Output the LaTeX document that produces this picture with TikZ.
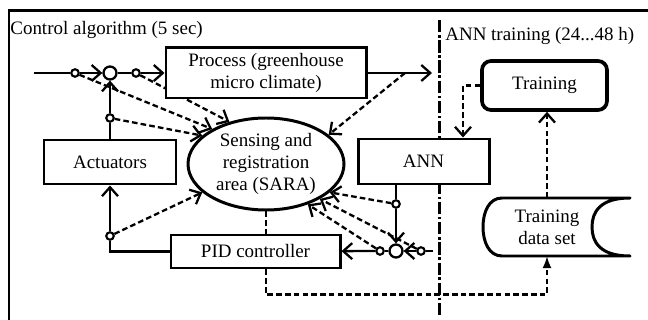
\documentclass[tikz,border=0pt]{standalone}
\usepackage{fontspec}
\setmainfont{Liberation Serif}
\usetikzlibrary{arrows.meta, shapes.geometric, backgrounds}

\tikzset{
    box/.style={draw, line width=1.7pt, fill=white, align=center, inner sep=1pt},
    tap/.style={circle, draw, line width=1.2pt, fill=white, inner sep=0pt, minimum size=1.5mm},
    sumpt/.style={circle, draw, line width=1.3pt, fill=white, inner sep=0pt, minimum size=2.6mm},
    sig/.style={line width=1.3pt},
    info/.style={line width=1.3pt, dash pattern=on 3.2pt off 1.8pt},
}

\begin{document}
\begin{tikzpicture}[x=0.2mm, y=-0.2mm, >={Straight Barb[length=1.8mm, width=3.2mm]},
        font=\fontsize{10.8}{12.6}\selectfont]
        % \draw[style=help lines, step=20] (0, 0) grid (648, 320);
        \useasboundingbox (0, 0) rectangle (648, 320);
        \draw[line width=1.7pt] (9, 320) -- (9, 11) -- (648, 11);
        \node[anchor=base west, inner sep=0pt] (ctrltitle) at (10, 35) {Control algorithm (5 sec)};
        \node[anchor=base west, inner sep=0pt] (anntitle) at (445, 41) {ANN training (24...48 h)};

        \node[box, minimum width=40mm, minimum height=10mm] (process) at (266, 73)
            {Process (greenhouse\\ micro climate)};
        \node[box, minimum width=26.4mm, minimum height=8.8mm] (actuators) at (110, 162) {Actuators};
        \node[box, minimum width=33.8mm, minimum height=6.6mm] (pid) at (255.5, 251.5) {PID controller};
        \node[draw, ellipse, line width=1.7pt, align=center, inner sep=0pt,
            minimum width=31.2mm, minimum height=18.4mm] (sara) at (266, 164)
            {Sensing and\\ registration\\ area (SARA)};
        \node[box, minimum width=26.2mm, minimum height=9mm] (ann) at (423.5, 161.5) {ANN};
        \node[box, line width=2.1pt, rounded corners=1.8mm, minimum width=25mm, minimum height=9.8mm]
            (training) at (544.5, 85.5) {Training};
        \node[align=center, inner sep=0pt, minimum height=11.6mm] (dataset) at (547, 227)
            {Training\\ data set};
        \draw[line width=1.7pt, line join=round]
            (502, 198) -- (630, 198) .. controls (600, 198) and (592, 212) .. (592, 227)
            .. controls (592, 242) and (600, 256) .. (630, 256) -- (502, 256)
            .. controls (489, 256) and (483, 242) .. (483, 227)
            .. controls (483, 212) and (489, 198) .. (502, 198);

        \coordinate (uin) at (34, 73);
        \coordinate (yout) at (432, 73);
        \coordinate (j1) at (405, 73);
        \coordinate (rin) at (433, 251);
        \node[tap] (c1) at (75, 73) {};
        \node[sumpt] (sum1) at (110, 73) {};
        \node[tap] (c2) at (136, 73) {};
        \node[tap] (c3) at (110, 118) {};
        \node[tap] (c4) at (110, 236) {};
        \node[tap] (c5) at (396, 204) {};
        \node[sumpt] (sum2) at (396, 251) {};
        \node[tap] (c6) at (421, 251) {};
        \node[tap] (c7) at (380, 251) {};

        \draw[sig] (uin) -- (c1);
        \draw[sig, ->] (c1) -- (sum1);
        \draw[sig] (sum1) -- (c2);
        \draw[sig, ->] (c2) -- (process);
        \draw[sig, ->] (process) -- (yout);
        \draw[sig] (actuators) -- (c3);
        \draw[sig, ->] (c3) -- (sum1);
        \draw[sig] (pid.west) -| (c4);
        \draw[sig, ->] (c4) -- (actuators);
        \draw[sig] (c5 |- ann.south) -- (c5);
        \draw[sig, ->] (c5) -- (sum2);
        \draw[sig] (rin) -- (c6);
        \draw[sig, ->] (c6) -- (sum2);
        \draw[sig] (sum2) -- (c7);
        \draw[sig, ->] (c7) -- (pid);

        \begin{pgfonlayer}{background}
            \draw[line width=1.7pt, dash pattern=on 7pt off 1.5pt on 1.5pt off 1.5pt]
                (439, 20) -- (439, 316);
            \draw[info, ->] (c1) -- (sara.147);
            \draw[info, ->] (c2) -- (sara.131);
            \draw[info, ->] (c3) -- (sara.156);
            \draw[info, ->] (c4) -- (sara.204);
            \draw[info, ->] (j1) -- (sara.25);
            \draw[info, ->] (c5) -- (sara.336);
            \draw[info, ->] (c6) -- (sara.327);
            \draw[info, ->] (c7) -- (sara.316);
            \draw[info] (sara.south) -- (sara.south |- pid.north);
            \draw[info, -latex] (sara.south |- pid.south) -- ++(0, 25) -| (dataset.south);
            \draw[info, ->] (dataset.north) -- (dataset.north |- training.south);
            \draw[info, ->] (training.west) -| ([xshift=7.9mm]ann.north);
        \end{pgfonlayer}
    \end{tikzpicture}
\end{document}
